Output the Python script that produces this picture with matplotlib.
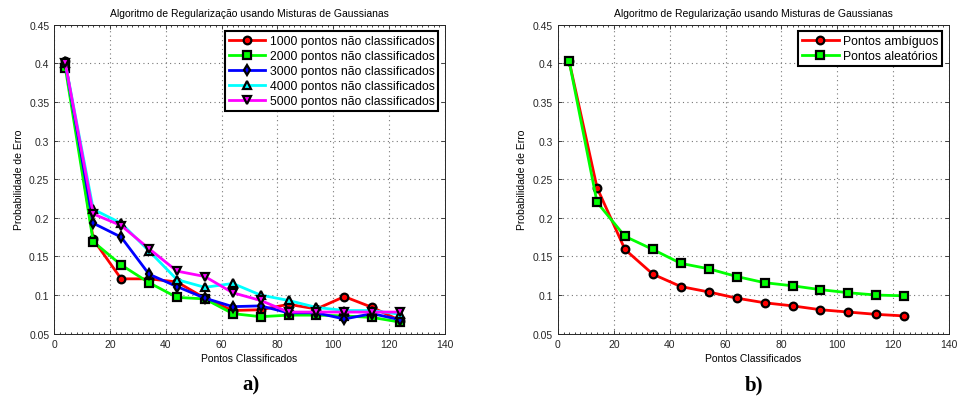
import numpy as np
import matplotlib
matplotlib.use("Agg")
import matplotlib.pyplot as plt
from matplotlib.ticker import MultipleLocator

plt.rcParams['font.family'] = ['Liberation Sans', 'DejaVu Sans']

# points classified (x)
pontos = [4, 14, 24, 34, 44, 54, 64, 74, 84, 94, 104, 114, 124]

# panel a) - error probability by number of unlabeled points
erro_1000 = [0.403, 0.172, 0.121, 0.121, 0.117, 0.096, 0.080, 0.081, 0.088, 0.082, 0.098, 0.084, 0.067]
erro_2000 = [0.394, 0.169, 0.139, 0.116, 0.097, 0.095, 0.076, 0.072, 0.074, 0.074, 0.073, 0.071, 0.065]
erro_3000 = [0.400, 0.193, 0.175, 0.127, 0.111, 0.096, 0.085, 0.086, 0.077, 0.077, 0.069, 0.076, 0.068]
erro_4000 = [0.400, 0.211, 0.193, 0.157, 0.120, 0.110, 0.115, 0.100, 0.093, 0.084, 0.080, 0.080, 0.075]
erro_5000 = [0.400, 0.205, 0.190, 0.160, 0.131, 0.124, 0.103, 0.093, 0.078, 0.078, 0.078, 0.078, 0.078]
legendas_a = ['1000 pontos não classificados', '2000 pontos não classificados',
              '3000 pontos não classificados', '4000 pontos não classificados',
              '5000 pontos não classificados']

# panel b) - ambiguous vs random points
erro_ambiguos = [0.403, 0.239, 0.159, 0.127, 0.111, 0.104, 0.096, 0.090, 0.086, 0.081, 0.078, 0.075, 0.073]
erro_aleatorios = [0.403, 0.220, 0.176, 0.159, 0.141, 0.134, 0.124, 0.116, 0.112, 0.107, 0.103, 0.100, 0.099]

titulo = 'Algoritmo de Regularização usando Misturas de Gaussianas'

fig = plt.figure(figsize=(9.59, 4.10), dpi=100)
ax1 = fig.add_axes([0.0565, 0.1837, 0.4073, 0.7537])
ax2 = fig.add_axes([0.5818, 0.1837, 0.4077, 0.7537])


def style_axes(ax):
    ax.set_xlim(0, 140)
    ax.set_ylim(0.05, 0.45)
    ax.set_xticks(np.arange(0, 141, 20))
    ax.set_yticks(np.arange(0.05, 0.451, 0.05))
    ax.set_yticklabels(['0.05', '0.1', '0.15', '0.2', '0.25', '0.3', '0.35', '0.4', '0.45'])
    ax.xaxis.set_minor_locator(MultipleLocator(2))
    ax.tick_params(which='both', direction='in', top=True, right=True, labelsize=7.5,
                   colors='#262626', length=3, width=0.6)
    ax.tick_params(which='minor', length=1.5)
    ax.grid(True, linestyle=(0, (1, 3)), color='#777777', linewidth=0.8)
    for s in ax.spines.values():
        s.set_linewidth(0.7)
        s.set_color('#262626')
    ax.set_title(titulo, fontsize=7.5, pad=6)
    ax.set_xlabel('Pontos Classificados', fontsize=7.5, labelpad=3)
    ax.set_ylabel('Probabilidade de Erro', fontsize=7.5, labelpad=4)


def legenda(ax):
    leg = ax.legend(loc='upper right', fontsize=8.8, fancybox=False, framealpha=1,
                    edgecolor='black', borderaxespad=0.55, handlelength=3.0,
                    labelspacing=0.25, borderpad=0.3, handletextpad=0.35)
    leg.get_frame().set_linewidth(1.5)


kw = dict(linewidth=2, markersize=5.5, markeredgecolor='black', markeredgewidth=1.6)
ax1.plot(pontos, erro_1000, color='#ff0000', marker='o', label=legendas_a[0], **kw)
ax1.plot(pontos, erro_2000, color='#00ff00', marker='s', label=legendas_a[1], **kw)
ax1.plot(pontos, erro_3000, color='#0000ff', marker='d', label=legendas_a[2], **kw)
ax1.plot(pontos, erro_4000, color='#00ffff', marker='^', label=legendas_a[3], **kw)
ax1.plot(pontos, erro_5000, color='#ff00ff', marker='v', label=legendas_a[4], **kw)
style_axes(ax1)
legenda(ax1)

ax2.plot(pontos, erro_ambiguos, color='#ff0000', marker='o', label='Pontos ambíguos', **kw)
ax2.plot(pontos, erro_aleatorios, color='#00ff00', marker='s', label='Pontos aleatórios', **kw)
style_axes(ax2)
legenda(ax2)

fig.text(0.262, 0.06, 'a)', fontsize=15, fontweight='bold', family='Liberation Serif',
         ha='center', va='center')
fig.text(0.786, 0.06, 'b)', fontsize=15, fontweight='bold', family='Liberation Serif',
         ha='center', va='center')

fig.savefig('out.png', dpi=100)
